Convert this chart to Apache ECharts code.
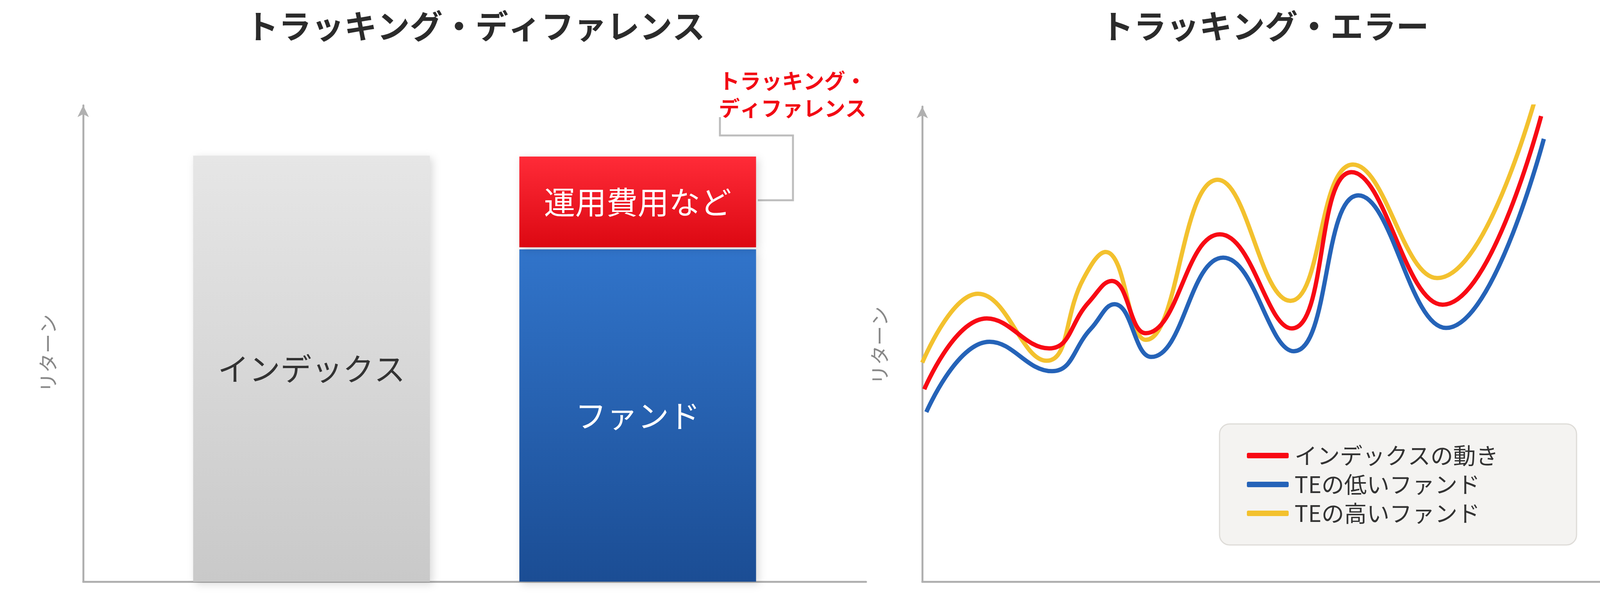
<!DOCTYPE html>
<html><head><meta charset="utf-8">
<script src="https://cdn.jsdelivr.net/npm/echarts@6/dist/echarts.min.js"></script>
<style>html,body{margin:0;padding:0;background:#fff}#c{width:4257px;height:1537px}</style>
</head><body><div id="c"></div>
<script>
// ---- Data ----
const leftTitle = 'トラッキング・ディファレンス';
const rightTitle = 'トラッキング・エラー';
const slots = ['', '', '', 'インデックス', '', '', '', '', 'ファンド', '', '', ''];
const indexValue = [null, null, null, 100, null, null, null, null, null, null, null, null];
const fundValue = [null, null, null, null, null, null, null, null, 78, null, null, null];
const gapValue = [null, null, null, null, null, null, null, null, 0.5, null, null, null];
const costValue = [null, null, null, null, null, null, null, null, 21.3, null, null, null];
const barLabels = ['インデックス', 'ファンド', '運用費用など'];
const seriesNames = ['インデックスの動き', 'TEの低いファンド', 'TEの高いファンド'];
const redX = [0.3, 9.5, 18.7, 24.5, 27.9, 32.9, 43.8, 54.4, 63.2, 76.6, 91.1];
const redY = [40.5, 55.4, 49.1, 58.8, 63.3, 52.3, 73.1, 53.3, 86.2, 58.3, 98.0];
const blueX = [0.6, 9.9, 19.1, 24.8, 28.3, 33.7, 44.3, 54.7, 64.2, 77.1, 91.5];
const blueY = [35.7, 50.5, 44.3, 53.2, 58.4, 47.3, 68.2, 48.5, 81.3, 53.4, 93.2];
const yellowX = [0, 8.2, 18.3, 23.7, 27.0, 32.9, 43.5, 54.2, 63.4, 75.8, 90.6];
const yellowY = [46.1, 60.6, 46.5, 63.7, 69.4, 50.9, 84.6, 59.1, 87.8, 63.9, 103.5];

const zip = (a, b) => a.map((v, i) => [v, b[i]]);
const grad = (c1, c2) => new echarts.graphic.LinearGradient(0, 0, 0, 1, [{offset: 0, color: c1}, {offset: 1, color: c2}]);
const axisLine = (arrow) => ({show: true, symbol: arrow ? ['none', 'arrow'] : 'none', symbolSize: [22, 30], lineStyle: {color: '#b0b0b0', width: 5}});
const FONT = '"Noto Sans CJK JP", "Noto Sans", sans-serif';
const shadow = {shadowBlur: 20, shadowColor: 'rgba(0,0,0,0.15)', shadowOffsetX: 6, shadowOffsetY: 6};

const chart = echarts.init(document.getElementById('c'));
chart.setOption({
  backgroundColor: '#fff',
  textStyle: {fontFamily: FONT},
  title: [
    {text: leftTitle, left: 1212, top: 20, textAlign: 'center', textStyle: {fontSize: 84, fontWeight: 'bold', color: '#2b2b2b', fontFamily: FONT}},
    {text: rightTitle, left: 3233, top: 20, textAlign: 'center', textStyle: {fontSize: 84, fontWeight: 'bold', color: '#2b2b2b', fontFamily: FONT}}
  ],
  grid: [
    {left: 213, top: 270, width: 2004, height: 1220},
    {left: 2361, top: 273, width: 1739, height: 1217}
  ],
  xAxis: [
    {gridIndex: 0, type: 'category', data: slots, axisLine: axisLine(false), axisTick: {show: false}, axisLabel: {show: false}, splitLine: {show: false}},
    {gridIndex: 1, type: 'value', min: 0, max: 100, axisLine: axisLine(false), axisTick: {show: false}, axisLabel: {show: false}, splitLine: {show: false}}
  ],
  yAxis: [
    {gridIndex: 0, type: 'value', min: 0, max: 111.8, axisLine: axisLine(true), axisTick: {show: false}, axisLabel: {show: false}, splitLine: {show: false}},
    {gridIndex: 1, type: 'value', min: 0, max: 100, axisLine: axisLine(true), axisTick: {show: false}, axisLabel: {show: false}, splitLine: {show: false}}
  ],
  legend: {
    data: seriesNames, orient: 'vertical', left: 3122, top: 1086,
    padding: [52, 200, 52, 70], itemGap: 16, itemWidth: 107, itemHeight: 14, icon: 'roundRect',
    backgroundColor: '#f4f3f1', borderColor: '#dedcd8', borderWidth: 3, borderRadius: 26,
    textStyle: {fontSize: 58, color: '#333', fontFamily: FONT, padding: [0, 0, 0, 10]}
  },
  series: [
    {type: 'bar', stack: 'i', xAxisIndex: 0, yAxisIndex: 0, barWidth: 606, data: indexValue,
     itemStyle: Object.assign({color: grad('#e6e6e6', '#c9c9c9')}, shadow),
     label: {show: true, position: 'inside', formatter: barLabels[0], fontSize: 80, color: '#333', fontFamily: FONT}},
    {type: 'bar', stack: 'f', xAxisIndex: 0, yAxisIndex: 0, barWidth: 606, barGap: '-100%', data: fundValue,
     itemStyle: Object.assign({color: grad('#3174ca', '#1b4d94')}, shadow),
     label: {show: true, position: 'inside', formatter: barLabels[1], fontSize: 80, color: '#fff', fontFamily: FONT}},
    {type: 'bar', stack: 'f', xAxisIndex: 0, yAxisIndex: 0, barWidth: 606, data: gapValue,
     itemStyle: {color: 'rgba(255,255,255,0)'}, silent: true},
    {type: 'bar', stack: 'f', xAxisIndex: 0, yAxisIndex: 0, barWidth: 606, data: costValue,
     itemStyle: Object.assign({color: grad('#ff2b38', '#dc0812')}, shadow),
     label: {show: true, position: 'inside', formatter: barLabels[2], fontSize: 80, color: '#fff', fontFamily: FONT}},
    {name: seriesNames[2], type: 'line', xAxisIndex: 1, yAxisIndex: 1, smooth: 0.45, showSymbol: false, clip: false,
     data: zip(yellowX, yellowY), lineStyle: {color: '#f3c12e', width: 11}, itemStyle: {color: '#f3c12e'}},
    {name: seriesNames[0], type: 'line', xAxisIndex: 1, yAxisIndex: 1, smooth: 0.45, showSymbol: false, clip: false,
     data: zip(redX, redY), lineStyle: {color: '#f80a14', width: 11}, itemStyle: {color: '#f80a14'}},
    {name: seriesNames[1], type: 'line', xAxisIndex: 1, yAxisIndex: 1, smooth: 0.45, showSymbol: false, clip: false,
     data: zip(blueX, blueY), lineStyle: {color: '#2563b8', width: 11}, itemStyle: {color: '#2563b8'}}
  ],
  graphic: [
    {type: 'text', x: 1840, y: 172, style: {text: 'トラッキング・\nディファレンス', fontSize: 54, lineHeight: 70, fontWeight: 'bold', fill: '#f20a14', fontFamily: FONT}},
    {type: 'polyline', shape: {points: [[1843, 300], [1843, 347], [2030, 347], [2030, 513], [1940, 513]]}, style: {stroke: '#bdbdbd', lineWidth: 5, fill: null}},
    {type: 'text', x: 123, y: 905, rotation: Math.PI / 2, style: {text: 'リターン', fontSize: 50, fill: '#888', align: 'center', verticalAlign: 'middle', fontFamily: FONT}},
    {type: 'text', x: 2252, y: 885, rotation: Math.PI / 2, style: {text: 'リターン', fontSize: 50, fill: '#888', align: 'center', verticalAlign: 'middle', fontFamily: FONT}}
  ]
});
</script></body></html>
